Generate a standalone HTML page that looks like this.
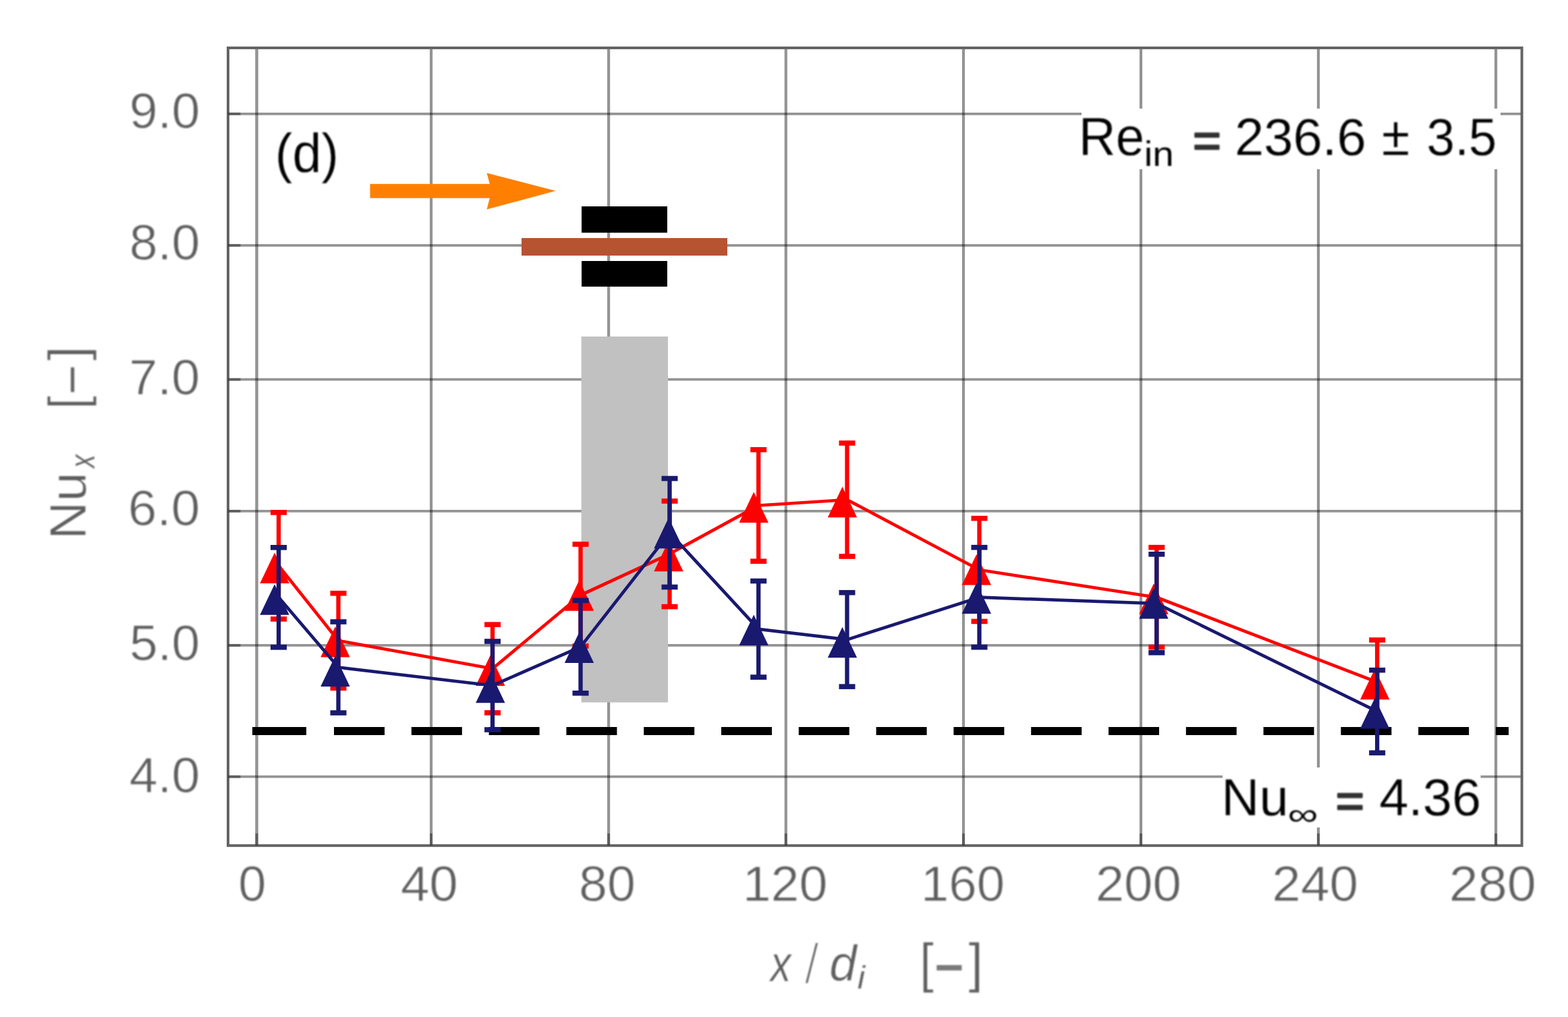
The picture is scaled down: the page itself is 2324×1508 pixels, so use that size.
<!DOCTYPE html>
<html lang="en"><head><meta charset="utf-8"><title>Local Nusselt number along the tube (d)</title>
<style>
html,body{margin:0;padding:0;background:#fff;}
body{width:2324px;height:1508px;overflow:hidden;}
svg{display:block;}
text{font-family:"Liberation Sans",Arial,Helvetica,sans-serif;}
</style></head><body>
<svg width="2324" height="1508" viewBox="0 0 2324 1508">
<defs><filter id="soft" color-interpolation-filters="sRGB" x="0" y="0" width="2324" height="1508" filterUnits="userSpaceOnUse"><feGaussianBlur stdDeviation="1.0"/></filter></defs>
<rect x="0" y="0" width="2324" height="1508" fill="#ffffff"/>
<g>

<g stroke="#000000" stroke-opacity="0.42" stroke-width="4.2" fill="none">
<line x1="380.5" y1="71" x2="380.5" y2="1253.8" stroke-width="4.5"/>
<line x1="639.05" y1="71" x2="639.05" y2="1253.8"/>
<line x1="902.1" y1="71" x2="902.1" y2="1253.8"/>
<line x1="1164.8" y1="71" x2="1164.8" y2="1253.8"/>
<line x1="1428" y1="71" x2="1428" y2="1253.8"/>
<line x1="1691" y1="71" x2="1691" y2="1253.8"/>
<line x1="1954" y1="71" x2="1954" y2="1253.8"/>
<line x1="2217.1" y1="71" x2="2217.1" y2="1253.8"/>
<line x1="338" y1="168.8" x2="2255.6" y2="168.8" stroke-width="3.8"/>
<line x1="338" y1="363.8" x2="2255.6" y2="363.8" stroke-width="3.8"/>
<line x1="338" y1="562.7" x2="2255.6" y2="562.7" stroke-width="3.8"/>
<line x1="338" y1="757.9" x2="2255.6" y2="757.9" stroke-width="3.8"/>
<line x1="338" y1="956.9" x2="2255.6" y2="956.9" stroke-width="3.8"/>
<line x1="338" y1="1151.7" x2="2255.6" y2="1151.7" stroke-width="3.8"/>
</g>
<rect x="338" y="71" width="1917.6" height="1182.8" fill="none" stroke="#646464" stroke-width="4"/>
<g stroke="#000000" stroke-opacity="0.36" stroke-width="4.0">
<line x1="338" y1="168.8" x2="356.5" y2="168.8"/>
<line x1="338" y1="363.8" x2="356.5" y2="363.8"/>
<line x1="338" y1="562.7" x2="356.5" y2="562.7"/>
<line x1="338" y1="757.9" x2="356.5" y2="757.9"/>
<line x1="338" y1="956.9" x2="356.5" y2="956.9"/>
<line x1="338" y1="1151.7" x2="356.5" y2="1151.7"/>
<line x1="380.5" y1="1235.8" x2="380.5" y2="1253.8"/>
<line x1="639.05" y1="1235.8" x2="639.05" y2="1253.8"/>
<line x1="902.1" y1="1235.8" x2="902.1" y2="1253.8"/>
<line x1="1164.8" y1="1235.8" x2="1164.8" y2="1253.8"/>
<line x1="1428" y1="1235.8" x2="1428" y2="1253.8"/>
<line x1="1691" y1="1235.8" x2="1691" y2="1253.8"/>
<line x1="1954" y1="1235.8" x2="1954" y2="1253.8"/>
<line x1="2217.1" y1="1235.8" x2="2217.1" y2="1253.8"/>
</g>
<rect x="1603" y="161" width="621" height="90" fill="#fff"/>
<rect x="1812" y="1138" width="382.5" height="89" fill="#fff"/>
<rect x="861.6" y="499" width="128.4" height="542.5" fill="#c1c1c1"/>
<rect x="862" y="306" width="127" height="39" fill="#000"/>
<rect x="862" y="387" width="127" height="38" fill="#000"/>
<rect x="773" y="353" width="305" height="26" fill="#b85332"/>
<path d="M548.5 272.7 H725.8 L721.5 256.6 L823.5 283 L721.5 310.6 L725.8 293.8 H548.5 Z" fill="#ff8000"/>
<g stroke="#000" stroke-width="12">
<line x1="374" y1="1084" x2="454" y2="1084"/>
<line x1="495.0" y1="1084" x2="570.0" y2="1084"/>
<line x1="609.8" y1="1084" x2="684.8" y2="1084"/>
<line x1="724.6" y1="1084" x2="799.6" y2="1084"/>
<line x1="839.4" y1="1084" x2="914.4" y2="1084"/>
<line x1="954.2" y1="1084" x2="1029.2" y2="1084"/>
<line x1="1069.0" y1="1084" x2="1144.0" y2="1084"/>
<line x1="1183.8" y1="1084" x2="1258.8" y2="1084"/>
<line x1="1298.6" y1="1084" x2="1373.6" y2="1084"/>
<line x1="1413.4" y1="1084" x2="1488.4" y2="1084"/>
<line x1="1528.2" y1="1084" x2="1603.2" y2="1084"/>
<line x1="1643.0" y1="1084" x2="1718.0" y2="1084"/>
<line x1="1757.8" y1="1084" x2="1832.8" y2="1084"/>
<line x1="1872.6" y1="1084" x2="1947.6" y2="1084"/>
<line x1="1987.4" y1="1084" x2="2062.4" y2="1084"/>
<line x1="2102.2" y1="1084" x2="2177.2" y2="1084"/>
<line x1="2217.0" y1="1084" x2="2236.0" y2="1084"/>
</g>
<g stroke="#ff0000" fill="#ff0000">
<polyline points="413,838.9 501.5,950 730,991.5 860.5,882.5 992.5,821.3 1124.2,749.5 1255.5,741 1451.5,845 1714.3,885.7 2041.2,1011.5" fill="none" stroke-width="4.7" stroke-linejoin="round"/>
<line x1="413" y1="759.9" x2="413" y2="917.9" stroke-width="6.3"/>
<line x1="401.0" y1="759.9" x2="425.0" y2="759.9" stroke-width="7.6"/>
<line x1="401.0" y1="917.9" x2="425.0" y2="917.9" stroke-width="7.6"/>
<path d="M407.0 819.5 L428.7 865.0 H385.3 Z" stroke="none"/>
<line x1="501.5" y1="879.7" x2="501.5" y2="1020.3" stroke-width="6.3"/>
<line x1="489.5" y1="879.7" x2="513.5" y2="879.7" stroke-width="7.6"/>
<line x1="489.5" y1="1020.3" x2="513.5" y2="1020.3" stroke-width="7.6"/>
<path d="M496.9 929.0 L518.6 974.5 H475.2 Z" stroke="none"/>
<line x1="730" y1="926.1" x2="730" y2="1056.9" stroke-width="6.3"/>
<line x1="718.0" y1="926.1" x2="742.0" y2="926.1" stroke-width="7.6"/>
<line x1="718.0" y1="1056.9" x2="742.0" y2="1056.9" stroke-width="7.6"/>
<path d="M726.8 971.5 L748.5 1017.0 H705.1 Z" stroke="none"/>
<line x1="860.5" y1="807.0" x2="860.5" y2="958.0" stroke-width="6.3"/>
<line x1="848.5" y1="807.0" x2="872.5" y2="807.0" stroke-width="7.6"/>
<line x1="848.5" y1="958.0" x2="872.5" y2="958.0" stroke-width="7.6"/>
<path d="M858.5 860.3 L880.2 905.8 H836.8 Z" stroke="none"/>
<line x1="992.5" y1="743.0" x2="992.5" y2="899.5999999999999" stroke-width="6.3"/>
<line x1="980.5" y1="743.0" x2="1004.5" y2="743.0" stroke-width="7.6"/>
<line x1="980.5" y1="899.5999999999999" x2="1004.5" y2="899.5999999999999" stroke-width="7.6"/>
<path d="M991.0 801.8 L1012.7 847.3 H969.3 Z" stroke="none"/>
<line x1="1124.2" y1="666.8" x2="1124.2" y2="832.2" stroke-width="6.3"/>
<line x1="1112.2" y1="666.8" x2="1136.2" y2="666.8" stroke-width="7.6"/>
<line x1="1112.2" y1="832.2" x2="1136.2" y2="832.2" stroke-width="7.6"/>
<path d="M1117.2 729.5 L1138.9 775.0 H1095.5 Z" stroke="none"/>
<line x1="1255.5" y1="657" x2="1255.5" y2="825" stroke-width="6.3"/>
<line x1="1243.5" y1="657" x2="1267.5" y2="657" stroke-width="7.6"/>
<line x1="1243.5" y1="825" x2="1267.5" y2="825" stroke-width="7.6"/>
<path d="M1248.5 721.8 L1270.2 767.3 H1226.8 Z" stroke="none"/>
<line x1="1451.5" y1="768.6" x2="1451.5" y2="921.4" stroke-width="6.3"/>
<line x1="1439.5" y1="768.6" x2="1463.5" y2="768.6" stroke-width="7.6"/>
<line x1="1439.5" y1="921.4" x2="1463.5" y2="921.4" stroke-width="7.6"/>
<path d="M1447.3 821.9 L1469.0 867.4 H1425.6 Z" stroke="none"/>
<line x1="1714.3" y1="811.7" x2="1714.3" y2="959.7" stroke-width="6.3"/>
<line x1="1702.3" y1="811.7" x2="1726.3" y2="811.7" stroke-width="7.6"/>
<line x1="1702.3" y1="959.7" x2="1726.3" y2="959.7" stroke-width="7.6"/>
<path d="M1710.0 865.2 L1731.7 910.7 H1688.3 Z" stroke="none"/>
<line x1="2041.2" y1="949.0" x2="2041.2" y2="1074.0" stroke-width="6.3"/>
<line x1="2029.2" y1="949.0" x2="2053.2" y2="949.0" stroke-width="7.6"/>
<line x1="2029.2" y1="1074.0" x2="2053.2" y2="1074.0" stroke-width="7.6"/>
<path d="M2037.7 991.7 L2059.4 1037.2 H2016.0 Z" stroke="none"/>
</g>
<g stroke="#191970" fill="#191970">
<polyline points="413,885.8 501.5,989.5 730,1016.5 860.5,959.1 992.5,790 1124.2,932.8 1255.5,948.4 1451.5,885.7 1714.3,894.8 2041.2,1055" fill="none" stroke-width="4.7" stroke-linejoin="round"/>
<line x1="413" y1="811.8" x2="413" y2="959.8" stroke-width="6.3"/>
<line x1="401.0" y1="811.8" x2="425.0" y2="811.8" stroke-width="7.6"/>
<line x1="401.0" y1="959.8" x2="425.0" y2="959.8" stroke-width="7.6"/>
<path d="M407.0 866.3 L428.7 911.8 H385.3 Z" stroke="none"/>
<line x1="501.5" y1="922.0" x2="501.5" y2="1057.0" stroke-width="6.3"/>
<line x1="489.5" y1="922.0" x2="513.5" y2="922.0" stroke-width="7.6"/>
<line x1="489.5" y1="1057.0" x2="513.5" y2="1057.0" stroke-width="7.6"/>
<path d="M496.9 972.5 L518.6 1018.0 H475.2 Z" stroke="none"/>
<line x1="730" y1="951.0" x2="730" y2="1082.0" stroke-width="6.3"/>
<line x1="718.0" y1="951.0" x2="742.0" y2="951.0" stroke-width="7.6"/>
<line x1="718.0" y1="1082.0" x2="742.0" y2="1082.0" stroke-width="7.6"/>
<path d="M726.8 996.8 L748.5 1042.3 H705.1 Z" stroke="none"/>
<line x1="860.5" y1="890.4" x2="860.5" y2="1027.8" stroke-width="6.3"/>
<line x1="848.5" y1="890.4" x2="872.5" y2="890.4" stroke-width="7.6"/>
<line x1="848.5" y1="1027.8" x2="872.5" y2="1027.8" stroke-width="7.6"/>
<path d="M858.5 937.5 L880.2 983.0 H836.8 Z" stroke="none"/>
<line x1="992.5" y1="709.5" x2="992.5" y2="870.5" stroke-width="6.3"/>
<line x1="980.5" y1="709.5" x2="1004.5" y2="709.5" stroke-width="7.6"/>
<line x1="980.5" y1="870.5" x2="1004.5" y2="870.5" stroke-width="7.6"/>
<path d="M991.0 767.7 L1012.7 813.2 H969.3 Z" stroke="none"/>
<line x1="1124.2" y1="861.5" x2="1124.2" y2="1004.0999999999999" stroke-width="6.3"/>
<line x1="1112.2" y1="861.5" x2="1136.2" y2="861.5" stroke-width="7.6"/>
<line x1="1112.2" y1="1004.0999999999999" x2="1136.2" y2="1004.0999999999999" stroke-width="7.6"/>
<path d="M1117.2 911.5 L1138.9 957.0 H1095.5 Z" stroke="none"/>
<line x1="1255.5" y1="878.6999999999999" x2="1255.5" y2="1018.1" stroke-width="6.3"/>
<line x1="1243.5" y1="878.6999999999999" x2="1267.5" y2="878.6999999999999" stroke-width="7.6"/>
<line x1="1243.5" y1="1018.1" x2="1267.5" y2="1018.1" stroke-width="7.6"/>
<path d="M1248.5 929.8 L1270.2 975.3 H1226.8 Z" stroke="none"/>
<line x1="1451.5" y1="811.7" x2="1451.5" y2="959.7" stroke-width="6.3"/>
<line x1="1439.5" y1="811.7" x2="1463.5" y2="811.7" stroke-width="7.6"/>
<line x1="1439.5" y1="959.7" x2="1463.5" y2="959.7" stroke-width="7.6"/>
<path d="M1447.3 864.6 L1469.0 910.1 H1425.6 Z" stroke="none"/>
<line x1="1714.3" y1="821.8" x2="1714.3" y2="967.8" stroke-width="6.3"/>
<line x1="1702.3" y1="821.8" x2="1726.3" y2="821.8" stroke-width="7.6"/>
<line x1="1702.3" y1="967.8" x2="1726.3" y2="967.8" stroke-width="7.6"/>
<path d="M1710.0 872.1 L1731.7 917.6 H1688.3 Z" stroke="none"/>
<line x1="2041.2" y1="993.7" x2="2041.2" y2="1116.3" stroke-width="6.3"/>
<line x1="2029.2" y1="993.7" x2="2053.2" y2="993.7" stroke-width="7.6"/>
<line x1="2029.2" y1="1116.3" x2="2053.2" y2="1116.3" stroke-width="7.6"/>
<path d="M2037.7 1035.0 L2059.4 1080.5 H2016.0 Z" stroke="none"/>
</g>
</g>
<g filter="url(#soft)">
<text transform="translate(191.72,189.96) scale(1.0109,1)" font-size="74.37" fill="#5e5e5e" stroke="#ffffff" stroke-width="0.8" stroke-linejoin="round">9.0</text>
<text transform="translate(191.72,385.06) scale(1.0109,1)" font-size="74.37" fill="#5e5e5e" stroke="#ffffff" stroke-width="0.8" stroke-linejoin="round">8.0</text>
<text transform="translate(191.32,584.86) scale(1.0148,1)" font-size="74.37" fill="#5e5e5e" stroke="#ffffff" stroke-width="0.8" stroke-linejoin="round">7.0</text>
<text transform="translate(189.87,778.86) scale(1.0293,1)" font-size="74.37" fill="#5e5e5e" stroke="#ffffff" stroke-width="0.8" stroke-linejoin="round">6.0</text>
<text transform="translate(192.10,978.86) scale(1.0070,1)" font-size="74.37" fill="#5e5e5e" stroke="#ffffff" stroke-width="0.8" stroke-linejoin="round">5.0</text>
<text transform="translate(191.82,1174.66) scale(1.0098,1)" font-size="74.37" fill="#5e5e5e" stroke="#ffffff" stroke-width="0.8" stroke-linejoin="round">4.0</text>
<text transform="translate(353.15,1335.65) scale(0.9880,1)" font-size="74.79" fill="#5e5e5e" stroke="#ffffff" stroke-width="0.8" stroke-linejoin="round">0</text>
<text transform="translate(593.89,1335.65) scale(1.0213,1)" font-size="74.79" fill="#5e5e5e" stroke="#ffffff" stroke-width="0.8" stroke-linejoin="round">40</text>
<text transform="translate(858.11,1335.65) scale(1.0074,1)" font-size="74.79" fill="#5e5e5e" stroke="#ffffff" stroke-width="0.8" stroke-linejoin="round">80</text>
<text transform="translate(1100.64,1335.65) scale(1.0095,1)" font-size="74.79" fill="#5e5e5e" stroke="#ffffff" stroke-width="0.8" stroke-linejoin="round">120</text>
<text transform="translate(1364.92,1335.65) scale(0.9949,1)" font-size="74.79" fill="#5e5e5e" stroke="#ffffff" stroke-width="0.8" stroke-linejoin="round">160</text>
<text transform="translate(1623.68,1335.65) scale(1.0206,1)" font-size="74.79" fill="#5e5e5e" stroke="#ffffff" stroke-width="0.8" stroke-linejoin="round">200</text>
<text transform="translate(1885.37,1335.65) scale(1.0240,1)" font-size="74.79" fill="#5e5e5e" stroke="#ffffff" stroke-width="0.8" stroke-linejoin="round">240</text>
<text transform="translate(2147.63,1335.65) scale(1.0342,1)" font-size="74.79" fill="#5e5e5e" stroke="#ffffff" stroke-width="0.8" stroke-linejoin="round">280</text>
<text transform="translate(407.77,255.49) scale(0.9450,1)" font-size="81.50" fill="#000000" stroke="#ffffff" stroke-width="0.3" stroke-linejoin="round">(d)</text>
<text transform="translate(1598.70,229.61) scale(0.9652,1)" font-size="78.86" fill="#000000" stroke="#ffffff" stroke-width="0.3" stroke-linejoin="round">Re</text>
<text transform="translate(1695.69,246.45) scale(1.1134,1)" font-size="50.91" fill="#000000" stroke="#ffffff" stroke-width="0.0" stroke-linejoin="round">in</text>
<text transform="translate(1768.08,232.88) scale(0.9846,1)" font-size="72.65" fill="#303030" stroke="#303030" stroke-width="2.6" stroke-linejoin="round">=</text>
<text transform="translate(1830.01,229.82) scale(0.9976,1)" font-size="78.03" fill="#000000" stroke="#ffffff" stroke-width="0.3" stroke-linejoin="round">236.6</text>
<text transform="translate(2047.82,229.70) scale(0.9335,1)" font-size="81.34" fill="#000000" stroke="#ffffff" stroke-width="0.5" stroke-linejoin="round">±</text>
<text transform="translate(2114.61,229.82) scale(0.9569,1)" font-size="78.03" fill="#000000" stroke="#ffffff" stroke-width="0.3" stroke-linejoin="round">3.5</text>
<text transform="translate(1810.27,1208.82) scale(0.9900,1)" font-size="78.57" fill="#000000" stroke="#ffffff" stroke-width="0.3" stroke-linejoin="round">Nu</text>
<text transform="translate(1908.61,1222.79) scale(1.3978,1)" font-size="45.31" fill="#000000" stroke="#ffffff" stroke-width="0.0" stroke-linejoin="round">∞</text>
<text transform="translate(1979.68,1211.96) scale(1.0220,1)" font-size="70.80" fill="#303030" stroke="#303030" stroke-width="2.6" stroke-linejoin="round">=</text>
<text transform="translate(2044.16,1208.83) scale(1.0017,1)" font-size="77.47" fill="#000000" stroke="#ffffff" stroke-width="0.3" stroke-linejoin="round">4.36</text>
<text transform="translate(1141.82,1455.05) scale(0.8016,1)" font-size="76.79" fill="#5e5e5e" stroke="#ffffff" stroke-width="0.7" stroke-linejoin="round" font-style="italic">x</text>
<text transform="translate(1196.33,1456.83) scale(0.5470,1)" font-size="81.63" fill="#5e5e5e" stroke="#ffffff" stroke-width="0.7" stroke-linejoin="round" font-style="italic">/</text>
<text transform="translate(1229.31,1454.35) scale(0.9902,1)" font-size="73.38" fill="#5e5e5e" stroke="#ffffff" stroke-width="0.7" stroke-linejoin="round" font-style="italic">d</text>
<text transform="translate(1270.78,1466.45) scale(1.0582,1)" font-size="48.83" fill="#5e5e5e" stroke="#ffffff" stroke-width="0.3" stroke-linejoin="round" font-style="italic">i</text>
<text transform="translate(1362.91,1455.19) scale(0.9396,1)" font-size="79.79" fill="#5e5e5e" stroke="#ffffff" stroke-width="0.7" stroke-linejoin="round">[</text>
<text transform="translate(1384.61,1471.97) scale(0.6833,1)" font-size="112.00" fill="#7a7a7a" stroke="#ffffff" stroke-width="0.0" stroke-linejoin="round">−</text>
<text transform="translate(1435.38,1455.19) scale(0.9639,1)" font-size="79.79" fill="#5e5e5e" stroke="#ffffff" stroke-width="0.7" stroke-linejoin="round">]</text>
<text transform="translate(127.43,799.95) rotate(-90) scale(1.0205,1)" font-size="76.57" fill="#5e5e5e" stroke="#ffffff" stroke-width="0.8" stroke-linejoin="round">Nu</text>
<text transform="translate(140.45,693.99) rotate(-90) scale(0.7589,1)" font-size="52.65" fill="#5e5e5e" stroke="#ffffff" stroke-width="0.3" stroke-linejoin="round" font-style="italic">x</text>
<text transform="translate(127.29,606.78) rotate(-90) scale(0.9179,1)" font-size="78.40" fill="#5e5e5e" stroke="#ffffff" stroke-width="0.7" stroke-linejoin="round">[</text>
<text transform="translate(132.08,585.14) rotate(-90) scale(1.0228,1)" font-size="73.67" fill="#666666" stroke="#ffffff" stroke-width="0.0" stroke-linejoin="round">−</text>
<text transform="translate(127.29,534.72) rotate(-90) scale(0.9811,1)" font-size="78.40" fill="#5e5e5e" stroke="#ffffff" stroke-width="0.7" stroke-linejoin="round">]</text>
</g>
</svg></body></html>
